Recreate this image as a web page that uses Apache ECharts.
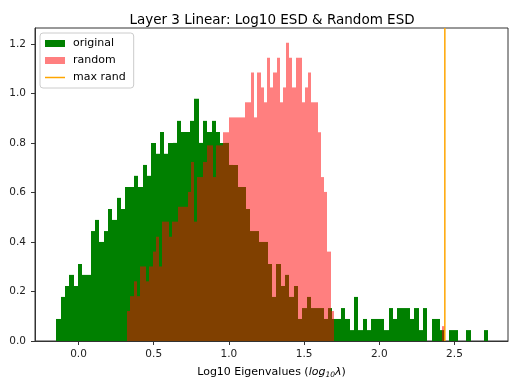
<!DOCTYPE html>
<html><head><meta charset="utf-8">
<script src="https://cdn.jsdelivr.net/npm/echarts@6/dist/echarts.min.js"></script>
<style>html,body{margin:0;padding:0;background:#fff}#c{width:509px;height:379px}</style>
</head><body><div id="c"></div>
<script>
const titleText = 'Layer 3 Linear: Log10 ESD & Random ESD';
const seriesNames = ['original', 'random', 'max rand'];
const xTickValues = [0, 0.5, 1.0, 1.5, 2.0, 2.5];
const yTickValues = [0, 0.2, 0.4, 0.6, 0.8, 1.0, 1.2];

// original ESD histogram (density), 100 bins
const originalBinStart = -0.148;
const originalBinWidth = 0.0287;
const originalDensity = [
  0.089, 0.178, 0.222, 0.267, 0.222, 0.311, 0.267, 0.267, 0.444, 0.489,
  0.400, 0.444, 0.533, 0.489, 0.578, 0.533, 0.622, 0.622, 0.667, 0.622,
  0.711, 0.667, 0.800, 0.756, 0.844, 0.756, 0.800, 0.800, 0.889, 0.844,
  0.844, 0.889, 0.978, 0.800, 0.889, 0.844, 0.889, 0.844, 0.800, 0.800,
  0.711, 0.711, 0.622, 0.622, 0.533, 0.444, 0.444, 0.400, 0.400, 0.311,
  0.178, 0.311, 0.222, 0.267, 0.178, 0.222, 0.089, 0.133, 0.178, 0.133,
  0.133, 0.133, 0.089, 0.133, 0.089, 0.089, 0.133, 0.089, 0.044, 0.178,
  0.044, 0.089, 0.044, 0.089, 0.089, 0.089, 0.044, 0.133, 0.089, 0.133,
  0.133, 0.133, 0.089, 0.133, 0.044, 0.133, 0, 0.089, 0.089, 0.044,
  0, 0.044, 0.044, 0, 0, 0.044, 0, 0, 0, 0.044
];

// random ESD histogram (density), 100 bins
const randomBinStart = 0.324;
const randomBinWidth = 0.02112;
const randomDensity = [
  0.121, 0.181, 0.241, 0.181, 0.301, 0.301, 0.241, 0.301, 0.361, 0.421,
  0.301, 0.482, 0.482, 0.421, 0.482, 0.482, 0.542, 0.542, 0.542, 0.602,
  0.723, 0.482, 0.662, 0.662, 0.723, 0.790, 0.790, 0.662, 0.790, 0.790,
  0.843, 0.843, 0.903, 0.903, 0.903, 0.903, 0.903, 0.964, 0.964, 1.084,
  0.903, 1.084, 1.024, 0.964, 1.144, 1.024, 1.084, 1.144, 0.964, 1.024,
  1.204, 1.144, 1.024, 1.144, 1.144, 0.964, 1.024, 1.084, 0.964, 0.964,
  0.843, 0.662, 0.602, 0.361, 0.121, 0, 0, 0, 0, 0,
  0, 0, 0, 0, 0, 0, 0, 0, 0, 0,
  0, 0, 0, 0, 0, 0, 0, 0, 0, 0,
  0, 0, 0, 0, 0, 0, 0, 0, 0, 0.060
];

const maxRand = 2.436;
const xMin = -0.2895, xMax = 2.856, yMin = 0, yMax = 1.264;

const colorOriginal = '#008000';
const colorRandom = 'rgba(255,0,0,0.5)';
const colorMax = '#ffa500';

function toBins(start, width, dens) {
  return dens.map((h, i) => [start + i * width, start + (i + 1) * width, h]);
}

function histRenderer(fill) {
  return function (params, api) {
    const h = api.value(2);
    if (!h) return null;
    const p0 = api.coord([api.value(0), 0]);
    const p1 = api.coord([api.value(1), h]);
    const xa = Math.round(p0[0]), xb = Math.round(p1[0]);
    return {
      type: 'rect',
      shape: { x: xa, y: p1[1], width: xb - xa, height: p0[1] - p1[1] },
      style: { fill: fill }
    };
  };
}

const font = 'DejaVu Sans';
const chart = echarts.init(document.getElementById('c'), null, { renderer: 'canvas' });
chart.setOption({
  animation: false,
  backgroundColor: '#ffffff',
  title: {
    text: titleText,
    left: 267, top: 8, textAlign: 'center',
    textStyle: { fontFamily: font, fontSize: 13.5, fontWeight: 'normal', color: '#000' }
  },
  legend: {
    data: [
      { name: seriesNames[0], icon: 'rect' },
      { name: seriesNames[1], icon: 'rect' },
      { name: seriesNames[2], icon: 'path://M0,0H20V1.5H0Z' }
    ],
    orient: 'vertical', left: 40, top: 33,
    itemWidth: 20, itemHeight: 7, itemGap: 4,
    padding: [4, 8, 4, 5],
    backgroundColor: 'rgba(255,255,255,0.8)',
    borderColor: '#cccccc', borderWidth: 1, borderRadius: 3,
    textStyle: { fontFamily: font, fontSize: 11, color: '#000', lineHeight: 13, padding: [0, 0, 0, 3] }
  },
  grid: {
    left: 35, right: 1, top: 28, bottom: 38,
    containLabel: false, outerBoundsMode: 'none',
    show: true, borderColor: '#333', borderWidth: 1, backgroundColor: 'transparent'
  },
  xAxis: {
    type: 'value', min: xMin, max: xMax,
    name: '{n|Log10 Eigenvalues (}{i|log}{s|10}{i|λ}{n|)}',
    nameLocation: 'middle', nameGap: 24,
    nameTextStyle: {
      rich: {
        n: { fontFamily: font, fontSize: 11, color: '#000' },
        i: { fontFamily: font, fontSize: 11, fontStyle: 'italic', color: '#000' },
        s: { fontFamily: font, fontSize: 7.5, fontStyle: 'italic', color: '#000', padding: [6, 0, 0, 0] }
      }
    },
    axisLine: { show: true, onZero: false, lineStyle: { color: '#333', width: 1 } },
    axisTick: { show: true, length: 4, customValues: xTickValues, lineStyle: { color: '#333' } },
    axisLabel: {
      customValues: xTickValues, margin: 8,
      formatter: v => v.toFixed(1),
      fontFamily: font, fontSize: 10.5, color: '#222'
    },
    splitLine: { show: false }
  },
  yAxis: {
    type: 'value', min: yMin, max: yMax,
    axisLine: { show: true, onZero: false, lineStyle: { color: '#333', width: 1 } },
    axisTick: { show: true, length: 4, customValues: yTickValues, lineStyle: { color: '#333' } },
    axisLabel: {
      customValues: yTickValues, margin: 9,
      formatter: v => v.toFixed(1),
      fontFamily: font, fontSize: 10.5, color: '#222'
    },
    splitLine: { show: false }
  },
  series: [
    {
      name: seriesNames[0], type: 'custom',
      itemStyle: { color: colorOriginal },
      renderItem: histRenderer(colorOriginal),
      encode: { x: [0, 1], y: 2 },
      data: toBins(originalBinStart, originalBinWidth, originalDensity),
      z: 2
    },
    {
      name: seriesNames[1], type: 'custom',
      itemStyle: { color: colorRandom },
      renderItem: histRenderer(colorRandom),
      encode: { x: [0, 1], y: 2 },
      data: toBins(randomBinStart, randomBinWidth, randomDensity),
      z: 3
    },
    {
      name: seriesNames[2], type: 'line',
      symbol: 'none', showSymbol: false,
      lineStyle: { color: colorMax, width: 1.5 },
      itemStyle: { color: colorMax },
      data: [[maxRand, yMin], [maxRand, yMax]],
      z: 4
    }
  ]
});
</script></body></html>
